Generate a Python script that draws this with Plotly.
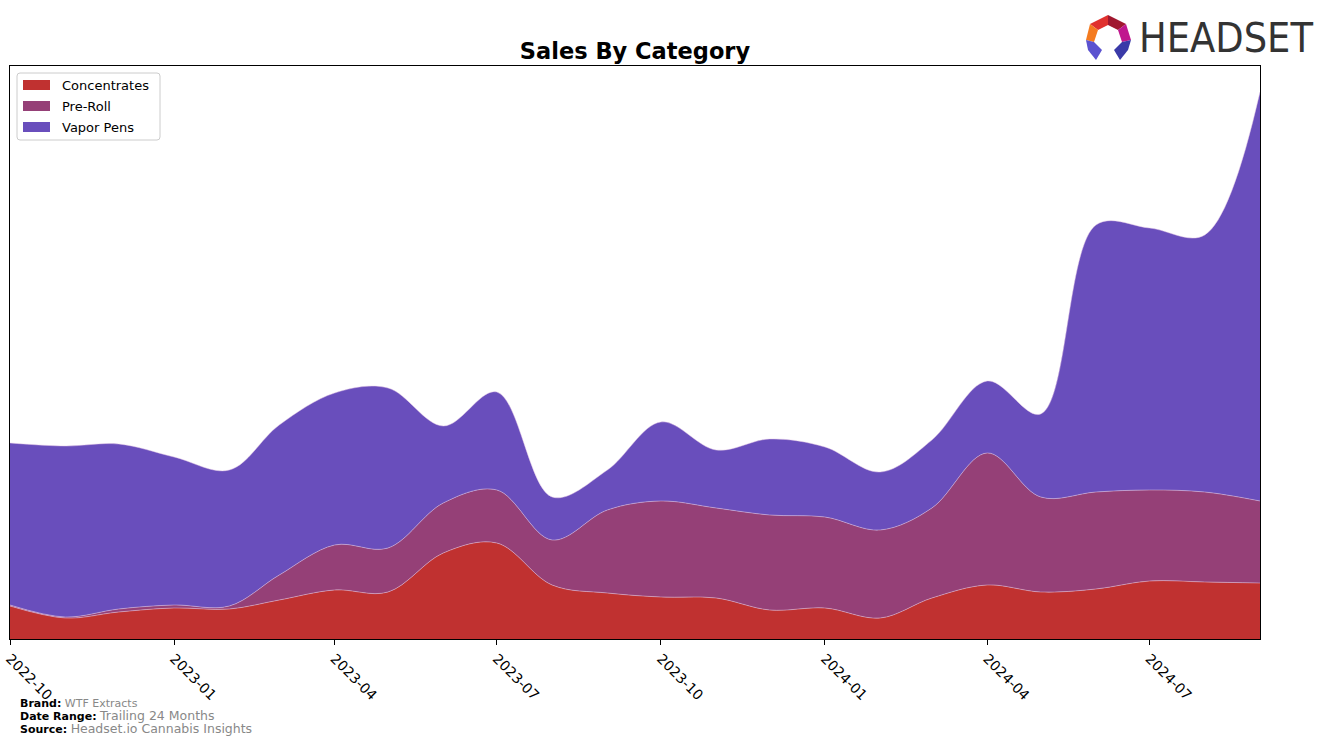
import plotly.graph_objects as go

months = ["2022-10-01","2022-11-01","2022-12-01","2023-01-01","2023-02-01","2023-03-01",
          "2023-04-01","2023-05-01","2023-06-01","2023-07-01","2023-08-01","2023-09-01",
          "2023-10-01","2023-11-01","2023-12-01","2024-01-01","2024-02-01","2024-03-01",
          "2024-04-01","2024-05-01","2024-06-01","2024-07-01","2024-08-01","2024-09-01"]

concentrates = [33,21,27,31,30,39,49,47,86,96,54,46,42,41,29,31,21,41,54,47,50,58,57,56]
pre_roll     = [1,1,3,3,3,25,45,44,50,53,45,83,96,90,95,91,88,90,132,95,97,91,90,82]
vapor_pens   = [162,171,165,148,136,150,152,160,77,98,43,40,79,58,76,70,58,68,72,83,267,262,257,409]

tick_vals = ["2022-10-01","2023-01-01","2023-04-01","2023-07-01","2023-10-01",
             "2024-01-01","2024-04-01","2024-07-01"]
tick_text = ["2022-10","2023-01","2023-04","2023-07","2023-10","2024-01","2024-04","2024-07"]

categories = ["Concentrates", "Pre-Roll", "Vapor Pens"]
colors = ["#C03130", "#954077", "#694EBC"]
values = [concentrates, pre_roll, vapor_pens]

W, H = 1324, 745
L, R, T, B = 10, 64, 66, 106

fig = go.Figure()
for name, vals, col in zip(categories, values, colors):
    fig.add_trace(go.Scatter(
        x=months, y=vals, name=name, mode="lines",
        stackgroup="one", fillcolor=col, showlegend=False,
        line=dict(shape="spline", smoothing=1.0, width=0.8, color="rgba(230,200,230,0.6)"),
    ))

ymax = 573

def px_x(px):
    return (px - L) / (W - L - R)

def px_y(py):
    return (H - B - py) / (H - T - B)

fig.update_layout(
    width=W, height=H,
    margin=dict(l=L, r=R, t=T, b=B, autoexpand=False),
    paper_bgcolor="white", plot_bgcolor="white",
    font=dict(family="DejaVu Sans", color="black", size=13),
    title=dict(text="<b>Sales By Category</b>", x=px_x(635), xanchor="center", xref="paper",
               y=1 - 51 / H, yanchor="middle", font=dict(size=22.5, family="DejaVu Sans")),
    showlegend=False,
    xaxis=dict(range=[months[0], months[-1]], tickvals=tick_vals, ticktext=tick_text,
               tickangle=45, ticks="outside", ticklen=5, tickcolor="black", automargin=False,
               showline=True, linecolor="black", linewidth=1, mirror=True,
               showgrid=False, zeroline=False, tickfont=dict(size=14)),
    yaxis=dict(range=[0, ymax], showticklabels=False, ticks="", showgrid=False, automargin=False,
               showline=True, linecolor="black", linewidth=1, mirror=True, zeroline=False),
)

# legend (drawn)
def rounded_rect(x0, y0, x1, y1, r):
    return (f"M {px_x(x0 + r)},{px_y(y0)} L {px_x(x1 - r)},{px_y(y0)} "
            f"Q {px_x(x1)},{px_y(y0)} {px_x(x1)},{px_y(y0 + r)} "
            f"L {px_x(x1)},{px_y(y1 - r)} Q {px_x(x1)},{px_y(y1)} {px_x(x1 - r)},{px_y(y1)} "
            f"L {px_x(x0 + r)},{px_y(y1)} Q {px_x(x0)},{px_y(y1)} {px_x(x0)},{px_y(y1 - r)} "
            f"L {px_x(x0)},{px_y(y0 + r)} Q {px_x(x0)},{px_y(y0)} {px_x(x0 + r)},{px_y(y0)} Z")

fig.add_shape(type="path", xref="paper", yref="paper", path=rounded_rect(17, 73, 160, 140, 3),
              fillcolor="rgba(255,255,255,0.8)", line=dict(color="#cccccc", width=1), layer="above")
for i, (name, col) in enumerate(zip(categories, colors)):
    cy = 85 + 21 * i
    fig.add_shape(type="rect", xref="paper", yref="paper",
                  x0=px_x(23), x1=px_x(50), y0=px_y(cy - 5), y1=px_y(cy + 5),
                  fillcolor=col, line=dict(width=0), layer="above")
    fig.add_annotation(xref="paper", yref="paper", x=px_x(60), y=px_y(cy),
                       xanchor="left", yanchor="middle", showarrow=False,
                       text=name, font=dict(size=13, color="black", family="DejaVu Sans"))

# footer
footer = [("Brand:", "WTF Extracts", 703, 11),
          ("Date Range:", "Trailing 24 Months", 715, 12.5),
          ("Source:", "Headset.io Cannabis Insights", 728, 12.5)]
for lab, val, py, vs in footer:
    fig.add_annotation(xref="paper", yref="paper", x=px_x(18), y=px_y(py),
                       xanchor="left", yanchor="middle", showarrow=False,
                       text=f"<b>{lab}</b> <span style='font-size:{vs}px;color:#888888'>{val}</span>",
                       font=dict(size=11, color="black", family="DejaVu Sans"))

# logo text
fig.add_annotation(xref="paper", yref="paper", x=px_x(1137), y=px_y(38),
                   xanchor="left", yanchor="middle", showarrow=False,
                   text="HEADSET", font=dict(size=41, color="#333333", family="DejaVu Sans Condensed"))

# logo icon (hexagonal ring)
def path(points):
    return "M " + " L ".join(f"{px_x(x)},{px_y(y)}" for x, y in points) + " Z"

pieces = [
    ([(1090, 24), (1108, 15), (1108, 25), (1098, 30)], "#E0312E"),
    ([(1108, 15), (1126, 24), (1118, 30), (1108, 25)], "#A0172F"),
    ([(1126, 24), (1131, 40), (1122, 42), (1118, 30)], "#C0178E"),
    ([(1090, 24), (1098, 30), (1094, 42), (1086, 40)], "#F47B20"),
    ([(1086, 40), (1094, 42), (1102, 50), (1096, 60), (1088, 50)], "#5B52D0"),
    ([(1131, 40), (1122, 42), (1114, 50), (1120, 60), (1128, 50)], "#3A3AA8"),
]
for pts, col in pieces:
    fig.add_shape(type="path", xref="paper", yref="paper", path=path(pts),
                  fillcolor=col, line=dict(width=0), layer="above")

fig.write_html("out.html")
